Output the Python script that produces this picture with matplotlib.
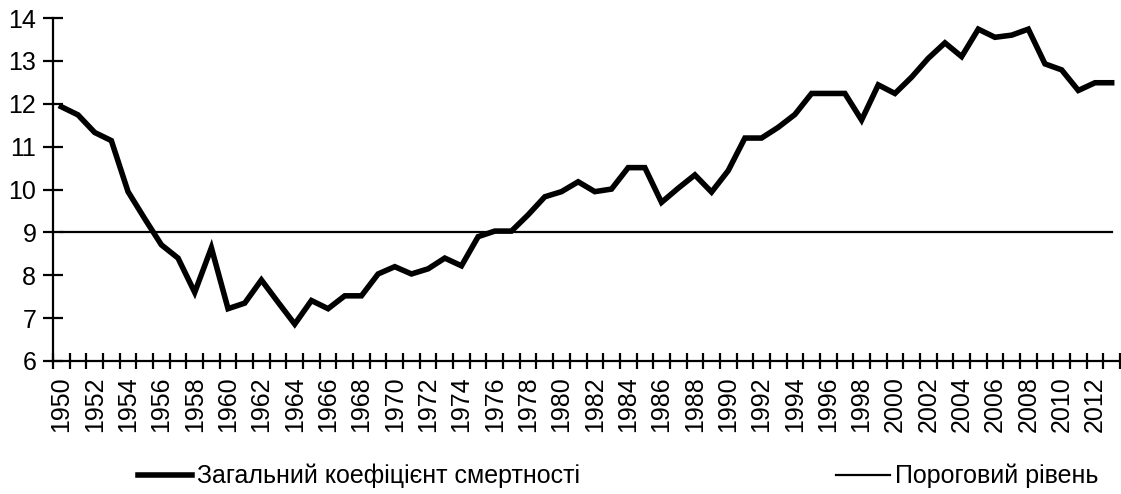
import numpy as np
import matplotlib.pyplot as plt

years = list(range(1950, 2014))
mortality = [11.93, 11.74, 11.33, 11.14, 9.95, 9.32, 8.71, 8.40, 7.60, 8.64,
             7.22, 7.35, 7.89, 7.37, 6.86, 7.41, 7.22, 7.52, 7.52, 8.03,
             8.20, 8.03, 8.15, 8.40, 8.22, 8.90, 9.03, 9.03, 9.41, 9.83,
             9.95, 10.18, 9.95, 10.01, 10.51, 10.51, 9.70, 10.03, 10.34, 9.94,
             10.44, 11.20, 11.20, 11.45, 11.75, 12.24, 12.24, 12.24, 11.62, 12.44,
             12.24, 12.62, 13.06, 13.42, 13.10, 13.74, 13.55, 13.60, 13.74, 12.93,
             12.79, 12.31, 12.49, 12.49]
threshold = [9] * len(years)

mortality_label = "Загальний коефіцієнт смертності"
threshold_label = "Пороговий рівень"

plt.rcParams['font.family'] = ['Liberation Sans', 'DejaVu Sans']
plt.rcParams['font.size'] = 18

fig = plt.figure(figsize=(11.21, 4.94), dpi=100)
ax = fig.add_axes([53 / 1121, 1 - 361 / 494, 1067 / 1121, 343 / 494])

l1, = ax.plot(years, mortality, color='black', lw=4, solid_joinstyle='miter')
l2, = ax.plot(years, threshold, color='black', lw=1.6)

ax.set_xlim(years[0] - 0.5, years[-1] + 0.5)
ax.set_ylim(6, 14)
ax.set_yticks(range(6, 15))

# year labels every two years, tick marks between categories
ax.set_xticks(years[::2])
ax.set_xticklabels([str(y) for y in years[::2]], rotation=90)
ax.set_xticks(np.arange(years[0] - 0.5, years[-1] + 1, 1), minor=True)
ax.tick_params(axis='x', which='major', length=0, pad=11)
ax.tick_params(axis='x', which='minor', direction='inout', length=11, width=1.6)
ax.tick_params(axis='y', direction='inout', length=14, width=1.6, pad=5)

for s in ['top', 'right']:
    ax.spines[s].set_visible(False)
for s in ['left', 'bottom']:
    ax.spines[s].set_linewidth(1.6)

leg1 = fig.legend([l1], [mortality_label], loc='center left',
                  bbox_to_anchor=(138 / 1121, 1 - 476 / 494), frameon=False,
                  handlelength=2.15, handletextpad=0.2, borderpad=0, borderaxespad=0)
leg2 = fig.legend([l2], [threshold_label], loc='center left',
                  bbox_to_anchor=(836 / 1121, 1 - 476 / 494), frameon=False,
                  handlelength=2.15, handletextpad=0.2, borderpad=0, borderaxespad=0)

fig.savefig('out.png', dpi=100)
